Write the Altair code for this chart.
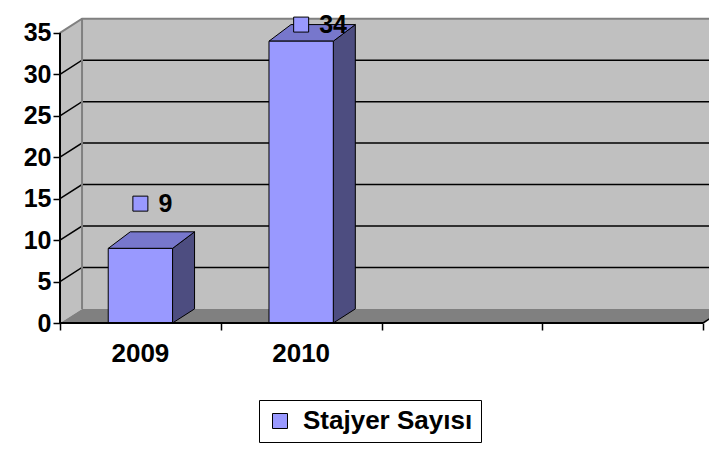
import altair as alt
import pandas as pd

# ---- data ----
years = ["2009", "2010"]
values = [9, 34]
series_name = "Stajyer Sayısı"
y_ticks = [0, 5, 10, 15, 20, 25, 30, 35]
slot_count = 4          # category slots on the x axis (2 used, 2 empty)

# ---- geometry / style constants ----
FONT = "Liberation Sans"
Y_TOP = y_ticks[-1]
DX = 0.137              # 3-D depth, in category units
DY = 1.7                # 3-D depth, in value units
BAR_HALF = 0.2
BAR_DY_TOP = 2.0
X_DOMAIN = [0, 4.037]
Y_DOMAIN = [0, 38]

FRONT = "#9999FF"
TOP = "#7777CC"
SIDE = "#4D4D80"
WALL = "#C0C0C0"
FLOOR = "#808080"

xs = alt.Scale(domain=X_DOMAIN, nice=False, zero=False)
ys = alt.Scale(domain=Y_DOMAIN, nice=False, zero=False)
x_axis = alt.Axis(values=list(range(slot_count + 1)), labels=False, title=None,
                  domain=False, grid=False, tickSize=7, tickColor="black", tickWidth=1.5)
y_axis = alt.Axis(values=y_ticks, title=None, domain=False, grid=False,
                  tickSize=7, tickColor="black", tickWidth=1.5, labelPadding=2,
                  labelFont=FONT, labelFontSize=25, labelFontWeight="bold",
                  labelColor="black")


def X(f="x"):
    return alt.X(f"{f}:Q", scale=xs, axis=x_axis, stack=None)


def Y(f="y"):
    return alt.Y(f"{f}:Q", scale=ys, axis=y_axis, stack=None)


# left wall
left_wall = pd.DataFrame([
    {"x": 0, "y": Y_TOP, "y2": 0},
    {"x": DX, "y": Y_TOP + DY, "y2": DY},
])
# back wall
back_wall = pd.DataFrame([{"x": DX, "x2": slot_count + DX, "y": DY, "y2": Y_TOP + DY}])
# floor
floor = pd.DataFrame([
    {"y": 0, "x": 0, "x2": slot_count},
    {"y": DY, "x": DX, "x2": slot_count + DX},
])
# gridlines (left wall diagonal + back wall horizontal)
grid_rows = []
for v in y_ticks[1:-1]:
    grid_rows += [
        {"g": v, "o": 0, "x": 0, "y": v},
        {"g": v, "o": 1, "x": DX, "y": v + DY},
        {"g": v, "o": 2, "x": slot_count + DX, "y": v + DY},
    ]
grid = pd.DataFrame(grid_rows)
# grey wall edges
edges = pd.DataFrame([
    {"g": "a", "o": 0, "x": 0, "y": Y_TOP},
    {"g": "a", "o": 1, "x": DX, "y": Y_TOP + DY},
    {"g": "a", "o": 2, "x": slot_count + DX, "y": Y_TOP + DY},
    {"g": "b", "o": 0, "x": DX, "y": DY},
    {"g": "b", "o": 1, "x": DX, "y": Y_TOP + DY},
])
floor_edge = pd.DataFrame([
    {"o": 0, "x": slot_count, "y": 0},
    {"o": 1, "x": slot_count + DX, "y": DY},
])

# bars
side_rows, top_rows, front_rows, lab_rows, cat_rows = [], [], [], [], []
for i, (yr, v) in enumerate(zip(years, values)):
    c = i + 0.5
    xl, xr = c - BAR_HALF, c + BAR_HALF
    side_rows += [
        {"year": yr, "x": xr, "y": v, "y2": 0},
        {"year": yr, "x": xr + DX, "y": v + BAR_DY_TOP, "y2": DY},
    ]
    top_rows += [
        {"year": yr, "y": v, "x": xl, "x2": xr},
        {"year": yr, "y": v + BAR_DY_TOP, "x": xl + DX, "x2": xr + DX},
    ]
    front_rows.append({"year": yr, "series": series_name, "x": xl, "x2": xr, "y": 0, "y2": v})
    lab_rows.append({"year": yr, "x": c, "value": v})
for i, yr in enumerate(years):
    cat_rows.append({"x": i + 0.5, "y": 0, "label": yr})

side = pd.DataFrame(side_rows)
top = pd.DataFrame(top_rows)
front = pd.DataFrame(front_rows)
labels = pd.DataFrame(lab_rows)
cats = pd.DataFrame(cat_rows)
axes_lines = pd.DataFrame([
    {"x": 0, "x2": slot_count, "y": 0, "y2": 0},
    {"x": 0, "x2": 0, "y": 0, "y2": Y_TOP},
])

layers = [
    alt.Chart(left_wall).mark_area(orient="vertical", color=WALL, opacity=1).encode(
        x=X(), y=Y(), y2="y2"),
    alt.Chart(back_wall).mark_rect(color=WALL, opacity=1).encode(
        x=X(), x2="x2", y=Y(), y2="y2"),
    alt.Chart(floor).mark_area(orient="horizontal", color=FLOOR, opacity=1).encode(
        y=Y(), x=X(), x2="x2"),
    alt.Chart(grid).mark_line(color="black", strokeWidth=1.5).encode(
        x=X(), y=Y(), detail="g:N", order="o:Q"),
    alt.Chart(edges).mark_line(color="#808080", strokeWidth=2).encode(
        x=X(), y=Y(), detail="g:N", order="o:Q"),
    alt.Chart(floor_edge).mark_line(color="black", strokeWidth=1.5).encode(
        x=X(), y=Y(), order="o:Q"),
    alt.Chart(side).mark_area(orient="vertical", color=SIDE, opacity=1,
                              stroke="black", strokeWidth=1).encode(
        x=X(), y=Y(), y2="y2", detail="year:N"),
    alt.Chart(top).mark_area(orient="horizontal", color=TOP, opacity=1,
                             stroke="black", strokeWidth=1).encode(
        y=Y(), x=X(), x2="x2", detail="year:N"),
    alt.Chart(front).mark_rect(stroke="black", strokeWidth=1, opacity=1).encode(
        x=X(), x2="x2", y=Y(), y2="y2",
        fill=alt.Fill("series:N", scale=alt.Scale(range=[FRONT]),
                      legend=alt.Legend(title=None, orient="none", legendX=199, legendY=392,
                                        symbolType="square", symbolSize=225,
                                        symbolStrokeColor="black", symbolStrokeWidth=1,
                                        symbolFillColor=FRONT,
                                        labelFont=FONT, labelFontSize=26, labelLimit=600,
                                        labelFontWeight="bold", labelColor="black",
                                        strokeColor="black", padding=8, labelOffset=10,
                                        fillColor="white"))),
    alt.Chart(axes_lines).mark_rule(color="black", strokeWidth=2).encode(
        x=X(), x2="x2", y=Y(), y2="y2"),
    alt.Chart(cats).mark_text(dy=31, font=FONT, fontSize=26, fontWeight="bold",
                              color="black", align="center", baseline="middle").encode(
        x=X(), y=Y(), text="label:N"),
    alt.Chart(labels).transform_calculate(ly="min(datum.value + 5.4, 36.0)").mark_square(
        size=225, fill=FRONT, stroke="black", strokeWidth=1, opacity=1).encode(
        x=X(), y=Y("ly")),
    alt.Chart(labels).transform_calculate(ly="min(datum.value + 5.4, 36.0)").mark_text(
        dx=18, font=FONT, fontSize=25, fontWeight="bold", color="black",
        align="left", baseline="middle").encode(
        x=X(), y=Y("ly"), text="value:Q"),
]

chart = alt.layer(*layers).properties(
    width=649, height=315,
    autosize=alt.AutoSizeParams(type="none"),
    padding={"left": 52, "top": 0, "right": 0, "bottom": 122},
    background="white",
).configure_view(stroke=None)

chart.save("out.html", embed_options={"renderer": "svg", "actions": False})
